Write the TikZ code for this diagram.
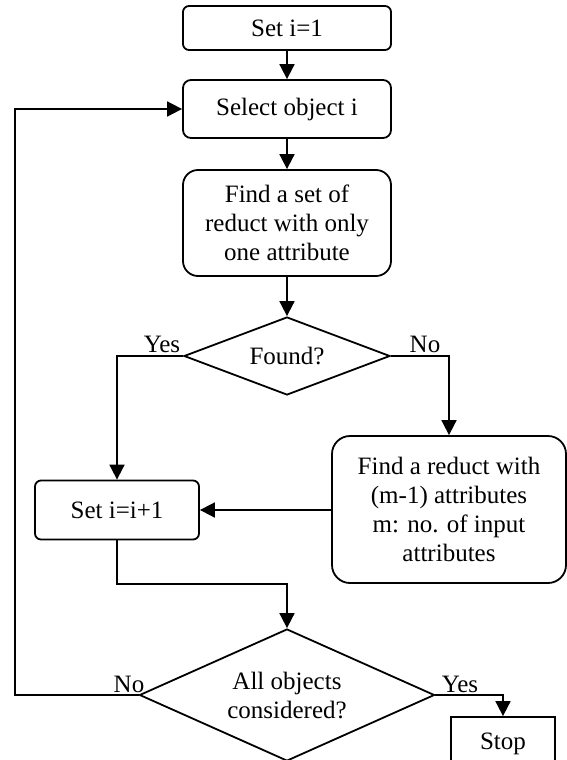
\documentclass[tikz,border=0pt]{standalone}
\usepackage{fontspec}
\setmainfont{Liberation Serif}
\usetikzlibrary{shapes.geometric,arrows.meta}
\begin{document}
\begin{tikzpicture}[x=1pt,y=-1pt,
  every node/.style={font=\fontsize{25}{29}\selectfont},
  box/.style={draw,line width=1.8pt,align=center,inner sep=0pt},
  dia/.style={draw,line width=1.8pt,align=center,inner sep=0pt,diamond},
  arr/.style={line width=1.8pt,-{Triangle[width=15pt,length=15pt]}},
  lbl/.style={inner sep=0pt,anchor=base}]
\useasboundingbox (0,0) rectangle (567,760);
\node[box,rounded corners=6pt,minimum width=208pt,minimum height=44pt] (s1) at (287,28) {Set i=1};
\node[box,rounded corners=8pt,minimum width=208pt,minimum height=58pt] (sel) at (287,109) {Select object i};
\node[box,rounded corners=15pt,minimum width=208pt,minimum height=106pt] (find) at (287,223) {Find a set of\\reduct with only\\one attribute};
\node[dia,shape aspect=2.64,minimum width=206pt,minimum height=78pt] (found) at (287,356) {Found?};
\node[box,rounded corners=18pt,minimum width=234pt,minimum height=147pt] (red) at (449,509.5) {Find a reduct with\\(m-1) attributes\\m: no. of input\\attributes};
\node[box,rounded corners=6pt,minimum width=164pt,minimum height=59pt] (inc) at (117,510) {Set i=i+1};
\node[dia,shape aspect=2.23,minimum width=295pt,minimum height=132pt] (all) at (287,695) {All objects\\considered?};
\node[box,minimum width=104pt,minimum height=53pt] (stop) at (503,743.5) {Stop};
\coordinate (yes1) at (117,356);
\coordinate (no1) at (449,356);
\coordinate (mid) at (117,584);
\coordinate (mid2) at (287,584);
\coordinate (no2) at (15,695);
\coordinate (no3) at (15,109);
\coordinate (yes2) at (503,695);
\draw[arr] (s1) -- (sel);
\draw[arr] (sel) -- (find);
\draw[arr] (find) -- (found);
\draw[arr] (found.west) -- (yes1) -- (inc.north);
\draw[arr] (found.east) -- (no1) -- (red.north);
\draw[arr] (red.west |- inc.east) -- (inc.east);
\draw[arr] (inc.south) -- (mid) -- (mid2) -- (all.north);
\draw[arr] (all.west) -- (no2) -- (no3) -- (sel.west);
\draw[arr] (all.east) -- (yes2) -- (stop.north);
\node[lbl] (ly1) at (162,352) {Yes};
\node[lbl] (ln1) at (425,352) {No};
\node[lbl] (ln2) at (129,692) {No};
\node[lbl] (ly2) at (460,692) {Yes};
\end{tikzpicture}
\end{document}
